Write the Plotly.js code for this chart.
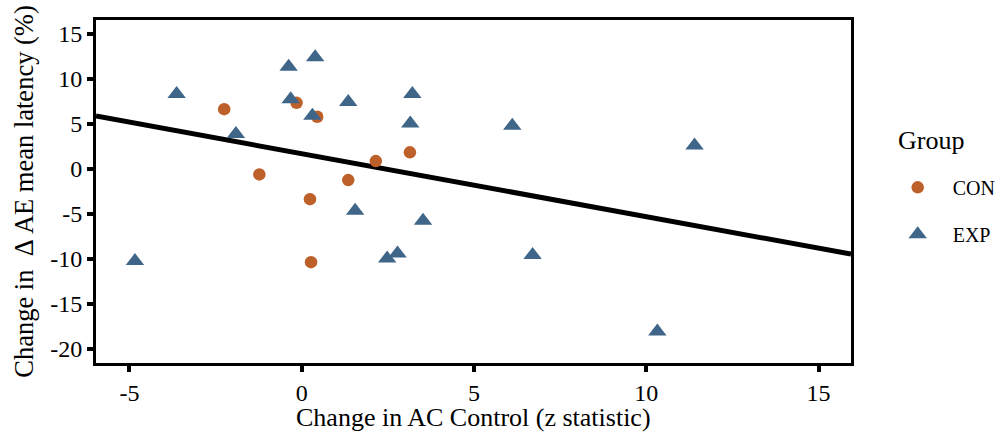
<!DOCTYPE html>
<html>
<head>
<meta charset="utf-8">
<script src="https://cdn.plot.ly/plotly-3.0.1.min.js"></script>
<style>
  html, body { margin: 0; padding: 0; background: #fff; }
  #chart { width: 996px; height: 432px; }
</style>
</head>
<body>
<div id="chart"></div>
<script>
// CON group (orange circles)
const conX = [-2.25, -0.15, 0.45, -1.23, 0.24, 0.27, 1.35, 2.15, 3.14];
const conY = [6.6, 7.3, 5.75, -0.65, -3.4, -10.4, -1.28, 0.83, 1.8];

// EXP group (blue triangles)
const expX = [-3.63, -1.91, -0.38, -0.32, 0.31, 0.39, 1.35, 3.21, 3.15, 6.11, 11.40, -4.84, 1.55, 3.52, 2.48, 2.78, 6.70, 10.32];
const expY = [8.28, 3.83, 11.3, 7.7, 5.87, 12.35, 7.4, 8.28, 5.0, 4.76, 2.57, -10.28, -4.69, -5.8, -10.0, -9.43, -9.6, -18.1];

// Fitted line endpoints
const fitX = [-5.97, 15.94];
const fitY = [5.83, -9.5];

const xTicks = [-5, 0, 5, 10, 15];
const yTicks = [15, 10, 5, 0, -5, -10, -15, -20];

const xTitle = 'Change in AC Control (z statistic)';
const yTitle = 'Change in  \u0394 AE mean latency (%)';
const legendTitle = 'Group';

const orange = '#BE6029';
const blue = '#3F6688';
const fontFam = 'Liberation Serif, serif';

const traces = [
  {
    x: fitX, y: fitY, mode: 'lines', type: 'scatter',
    line: {color: '#000', width: 5}, showlegend: false, hoverinfo: 'skip'
  },
  {
    x: conX, y: conY, mode: 'markers', type: 'scatter', name: 'CON', legendgroup: 'con',
    marker: {symbol: 'circle', size: 12.5, color: orange}
  },
  {
    x: expX, y: expY, mode: 'markers', type: 'scatter', name: 'EXP', legendgroup: 'exp',
    marker: {symbol: 'triangle-up', size: 16, color: blue}
  }
];

const axisCommon = {
  showgrid: false, zeroline: false,
  showline: true, linecolor: '#000', linewidth: 3, mirror: true,
  ticks: 'outside', ticklen: 6, tickwidth: 4, tickcolor: '#000',
  tickfont: {family: fontFam, size: 24, color: '#000'}
};

const layout = {
  width: 996, height: 432,
  margin: {l: 96, r: 145, t: 20, b: 69, autoexpand: false},
  paper_bgcolor: '#fff', plot_bgcolor: '#fff',
  font: {family: fontFam, color: '#000'},
  xaxis: Object.assign({}, axisCommon, {
    range: [-5.97, 15.94],
    tickvals: xTicks, ticktext: xTicks.map(String)
  }),
  yaxis: Object.assign({}, axisCommon, {
    range: [-21.6, 16.5],
    tickvals: yTicks, ticktext: yTicks.map(String),
    title: {text: yTitle, font: {family: fontFam, size: 26.5, color: '#000'}, standoff: 9}
  }),
  legend: {
    x: 1.042, xanchor: 'left', y: 0.569, yanchor: 'top',
    font: {family: fontFam, size: 20, color: '#000'},
    traceorder: 'grouped', tracegroupgap: 18,
    itemwidth: 60, itemsizing: 'trace'
  },
  annotations: [
    {
      text: legendTitle, xref: 'paper', yref: 'paper', x: 1.0596, y: 0.649,
      xanchor: 'left', yanchor: 'middle', showarrow: false,
      font: {family: fontFam, size: 26, color: '#000'}
    },
    {
      text: xTitle, xref: 'paper', yref: 'paper', x: 0.5, y: 0,
      xanchor: 'center', yanchor: 'middle', yshift: -54, showarrow: false,
      font: {family: fontFam, size: 26, color: '#000'}
    }
  ],
  showlegend: true
};

Plotly.newPlot('chart', traces, layout, {displayModeBar: false, staticPlot: true});
</script>
</body>
</html>
